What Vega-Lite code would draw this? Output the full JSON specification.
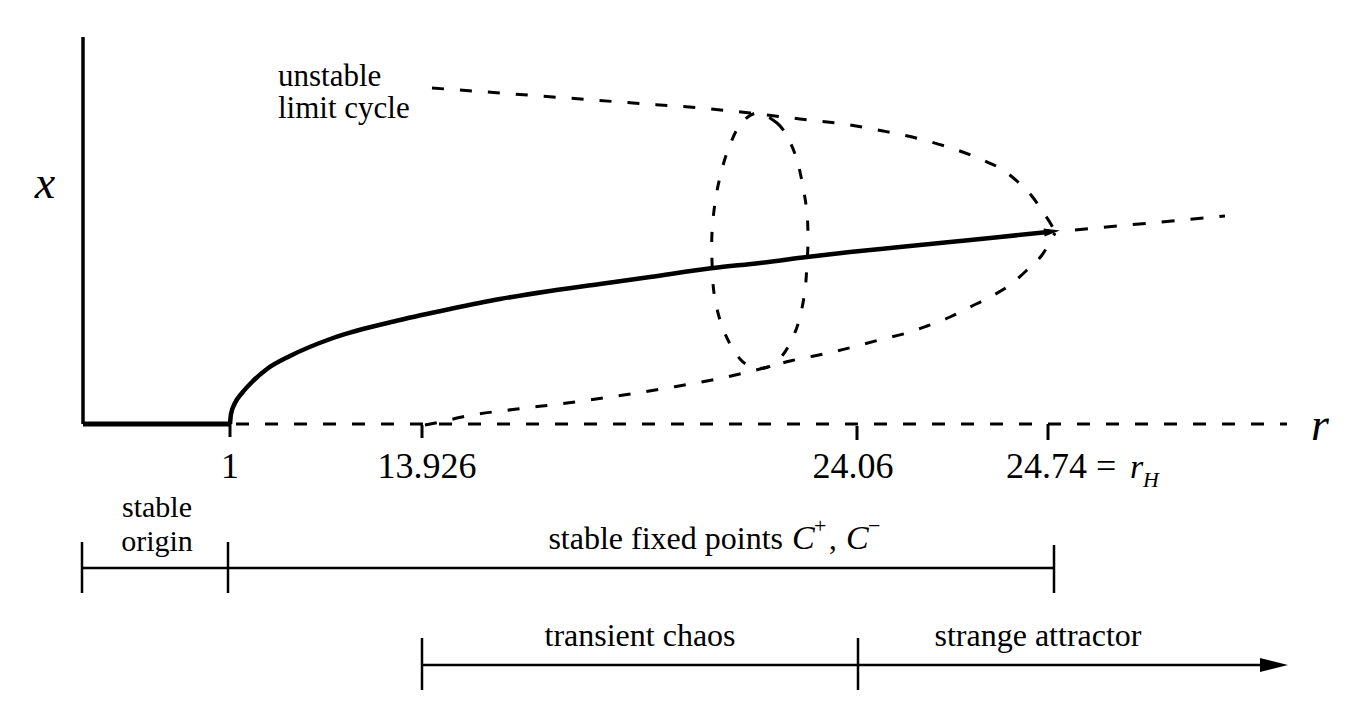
{
  "$schema": "https://vega.github.io/schema/vega-lite/v6.json",
  "width": 1345,
  "height": 714,
  "autosize": {"type": "fit", "contains": "padding"},
  "padding": 0,
  "background": "white",
  "config": {"view": {"stroke": null}},
  "datasets": {
    "paths": [
      {"g": "yaxis", "i": 0, "u": 83, "v": 37},
      {"g": "yaxis", "i": 1, "u": 83, "v": 424},
      {"g": "origin", "i": 0, "u": 83, "v": 424},
      {"g": "origin", "i": 1, "u": 231, "v": 424},
      {"g": "stable", "i": 0, "u": 230, "v": 424},
      {"g": "stable", "i": 1, "u": 231, "v": 414},
      {"g": "stable", "i": 2, "u": 235, "v": 403},
      {"g": "stable", "i": 3, "u": 242, "v": 393},
      {"g": "stable", "i": 4, "u": 252, "v": 382},
      {"g": "stable", "i": 5, "u": 267, "v": 369},
      {"g": "stable", "i": 6, "u": 290, "v": 356},
      {"g": "stable", "i": 7, "u": 333, "v": 338},
      {"g": "stable", "i": 8, "u": 400, "v": 320},
      {"g": "stable", "i": 9, "u": 450, "v": 309},
      {"g": "stable", "i": 10, "u": 500, "v": 299},
      {"g": "stable", "i": 11, "u": 550, "v": 291},
      {"g": "stable", "i": 12, "u": 600, "v": 284},
      {"g": "stable", "i": 13, "u": 650, "v": 277},
      {"g": "stable", "i": 14, "u": 713, "v": 268},
      {"g": "stable", "i": 15, "u": 760, "v": 263},
      {"g": "stable", "i": 16, "u": 807, "v": 257},
      {"g": "stable", "i": 17, "u": 850, "v": 252},
      {"g": "stable", "i": 18, "u": 900, "v": 247},
      {"g": "stable", "i": 19, "u": 950, "v": 242},
      {"g": "stable", "i": 20, "u": 1000, "v": 237},
      {"g": "stable", "i": 21, "u": 1048, "v": 232},
      {"g": "raxis", "i": 0, "u": 236, "v": 424},
      {"g": "raxis", "i": 1, "u": 1287, "v": 424},
      {"g": "ext", "i": 0, "u": 1075, "v": 230},
      {"g": "ext", "i": 1, "u": 1225, "v": 216},
      {"g": "upper", "i": 0, "u": 432, "v": 88},
      {"g": "upper", "i": 1, "u": 500, "v": 93},
      {"g": "upper", "i": 2, "u": 567, "v": 98},
      {"g": "upper", "i": 3, "u": 633, "v": 103},
      {"g": "upper", "i": 4, "u": 700, "v": 108},
      {"g": "upper", "i": 5, "u": 750, "v": 113},
      {"g": "upper", "i": 6, "u": 800, "v": 119},
      {"g": "upper", "i": 7, "u": 850, "v": 125},
      {"g": "upper", "i": 8, "u": 883, "v": 131},
      {"g": "upper", "i": 9, "u": 920, "v": 139},
      {"g": "upper", "i": 10, "u": 957, "v": 150},
      {"g": "upper", "i": 11, "u": 985, "v": 161},
      {"g": "upper", "i": 12, "u": 1003, "v": 170},
      {"g": "upper", "i": 13, "u": 1018, "v": 182},
      {"g": "upper", "i": 14, "u": 1031, "v": 195},
      {"g": "upper", "i": 15, "u": 1043, "v": 212},
      {"g": "upper", "i": 16, "u": 1052, "v": 226},
      {"g": "upper", "i": 17, "u": 1055, "v": 232},
      {"g": "lower", "i": 0, "u": 425, "v": 425},
      {"g": "lower", "i": 1, "u": 440, "v": 422},
      {"g": "lower", "i": 2, "u": 467, "v": 416},
      {"g": "lower", "i": 3, "u": 517, "v": 409},
      {"g": "lower", "i": 4, "u": 567, "v": 403},
      {"g": "lower", "i": 5, "u": 617, "v": 396},
      {"g": "lower", "i": 6, "u": 667, "v": 388},
      {"g": "lower", "i": 7, "u": 717, "v": 379},
      {"g": "lower", "i": 8, "u": 760, "v": 369},
      {"g": "lower", "i": 9, "u": 790, "v": 361},
      {"g": "lower", "i": 10, "u": 833, "v": 352},
      {"g": "lower", "i": 11, "u": 883, "v": 339},
      {"g": "lower", "i": 12, "u": 907, "v": 333},
      {"g": "lower", "i": 13, "u": 927, "v": 326},
      {"g": "lower", "i": 14, "u": 950, "v": 317},
      {"g": "lower", "i": 15, "u": 970, "v": 307},
      {"g": "lower", "i": 16, "u": 990, "v": 297},
      {"g": "lower", "i": 17, "u": 1010, "v": 285},
      {"g": "lower", "i": 18, "u": 1026, "v": 271},
      {"g": "lower", "i": 19, "u": 1042, "v": 255},
      {"g": "lower", "i": 20, "u": 1055, "v": 233},
      {"g": "loop", "i": 0, "u": 757, "v": 113},
      {"g": "loop", "i": 1, "u": 777, "v": 123},
      {"g": "loop", "i": 2, "u": 788, "v": 138},
      {"g": "loop", "i": 3, "u": 797, "v": 160},
      {"g": "loop", "i": 4, "u": 803, "v": 187},
      {"g": "loop", "i": 5, "u": 807, "v": 213},
      {"g": "loop", "i": 6, "u": 808, "v": 240},
      {"g": "loop", "i": 7, "u": 807, "v": 264},
      {"g": "loop", "i": 8, "u": 805, "v": 290},
      {"g": "loop", "i": 9, "u": 800, "v": 317},
      {"g": "loop", "i": 10, "u": 793, "v": 337},
      {"g": "loop", "i": 11, "u": 782, "v": 356},
      {"g": "loop", "i": 12, "u": 768, "v": 367},
      {"g": "loop", "i": 13, "u": 752, "v": 367},
      {"g": "loop", "i": 14, "u": 740, "v": 359},
      {"g": "loop", "i": 15, "u": 729, "v": 342},
      {"g": "loop", "i": 16, "u": 720, "v": 320},
      {"g": "loop", "i": 17, "u": 714, "v": 293},
      {"g": "loop", "i": 18, "u": 712, "v": 262},
      {"g": "loop", "i": 19, "u": 712, "v": 233},
      {"g": "loop", "i": 20, "u": 715, "v": 203},
      {"g": "loop", "i": 21, "u": 720, "v": 177},
      {"g": "loop", "i": 22, "u": 728, "v": 150},
      {"g": "loop", "i": 23, "u": 740, "v": 125}
    ],
    "segs": [
      {"k": "tick", "u": 230, "v": 424, "u2": 230, "v2": 437},
      {"k": "tick", "u": 422, "v": 425, "u2": 422, "v2": 438},
      {"k": "tick", "u": 857, "v": 426, "u2": 857, "v2": 440},
      {"k": "tick", "u": 1048, "v": 424, "u2": 1048, "v2": 440},
      {"k": "bar", "u": 82, "v": 568, "u2": 1054, "v2": 568},
      {"k": "bar", "u": 422, "v": 665, "u2": 1265, "v2": 665},
      {"k": "bar", "u": 82, "v": 542, "u2": 82, "v2": 593},
      {"k": "bar", "u": 228, "v": 542, "u2": 228, "v2": 593},
      {"k": "bar", "u": 1054, "v": 545, "u2": 1054, "v2": 593},
      {"k": "bar", "u": 422, "v": 638, "u2": 422, "v2": 690},
      {"k": "bar", "u": 858, "v": 638, "u2": 858, "v2": 690}
    ],
    "heads": [
      {"k": "big", "u": 1274, "v": 665},
      {"k": "small", "u": 1052, "v": 231.5}
    ],
    "labels": [
      {"k": "labS", "t": "stable", "u": 157, "v": 517},
      {"k": "labS", "t": "origin", "u": 157, "v": 551},
      {"k": "lab", "t": "transient chaos", "u": 640, "v": 646},
      {"k": "lab", "t": "strange attractor", "u": 1038, "v": 646},
      {"k": "labL", "t": "unstable", "u": 278, "v": 86},
      {"k": "labL", "t": "limit cycle", "u": 278, "v": 118},
      {"k": "labL", "t": ",", "u": 829, "v": 549},
      {"k": "labR", "t": "stable fixed points", "u": 783, "v": 549},
      {"k": "num", "t": "1", "u": 230, "v": 478},
      {"k": "num", "t": "13.926", "u": 427, "v": 478},
      {"k": "num", "t": "24.06", "u": 853, "v": 478},
      {"k": "numL", "t": "24.74 =", "u": 1006, "v": 478},
      {"k": "it", "t": "x", "u": 45, "v": 198},
      {"k": "it", "t": "r", "u": 1320, "v": 440},
      {"k": "itS", "t": "r", "u": 1130, "v": 478},
      {"k": "itS", "t": "C", "u": 792, "v": 549},
      {"k": "itS", "t": "C", "u": 846, "v": 549},
      {"k": "sub", "t": "H", "u": 1143, "v": 487},
      {"k": "sup", "t": "+", "u": 814, "v": 533},
      {"k": "sup", "t": "−", "u": 868, "v": 533}
    ]
  },
  "encoding": {
    "x": {"field": "u", "type": "quantitative", "scale": {"domain": [0, 1345], "nice": false, "zero": false}, "axis": null},
    "y": {"field": "v", "type": "quantitative", "scale": {"domain": [0, 714], "nice": false, "zero": false, "reverse": true}, "axis": null}
  },
  "layer": [
    {
      "data": {"name": "paths"},
      "transform": [{"filter": "datum.g === 'yaxis'"}],
      "mark": {"type": "line", "color": "#000", "strokeWidth": 3.5},
      "encoding": {"order": {"field": "i", "type": "quantitative"}}
    },
    {
      "data": {"name": "paths"},
      "transform": [{"filter": "datum.g === 'origin'"}],
      "mark": {"type": "line", "color": "#000", "strokeWidth": 5},
      "encoding": {"order": {"field": "i", "type": "quantitative"}}
    },
    {
      "data": {"name": "paths"},
      "transform": [{"filter": "datum.g === 'stable'"}],
      "mark": {"type": "line", "color": "#000", "strokeWidth": 4.5, "interpolate": "monotone"},
      "encoding": {"order": {"field": "i", "type": "quantitative"}}
    },
    {
      "data": {"name": "paths"},
      "transform": [{"filter": "datum.g === 'raxis' || datum.g === 'ext'"}],
      "mark": {"type": "line", "color": "#000", "strokeWidth": 3, "strokeDash": [13, 16]},
      "encoding": {"detail": {"field": "g"}, "order": {"field": "i", "type": "quantitative"}}
    },
    {
      "data": {"name": "paths"},
      "transform": [{"filter": "datum.g === 'upper' || datum.g === 'lower'"}],
      "mark": {"type": "line", "color": "#000", "strokeWidth": 3, "strokeDash": [12, 16], "interpolate": "monotone"},
      "encoding": {"detail": {"field": "g"}, "order": {"field": "i", "type": "quantitative"}}
    },
    {
      "data": {"name": "paths"},
      "transform": [{"filter": "datum.g === 'loop'"}],
      "mark": {"type": "line", "color": "#000", "strokeWidth": 3, "strokeDash": [10, 16], "interpolate": "cardinal-closed"},
      "encoding": {"order": {"field": "i", "type": "quantitative"}}
    },
    {
      "data": {"name": "segs"},
      "transform": [{"filter": "datum.k === 'tick'"}],
      "mark": {"type": "rule", "color": "#000", "strokeWidth": 3},
      "encoding": {"x2": {"field": "u2"}, "y2": {"field": "v2"}}
    },
    {
      "data": {"name": "segs"},
      "transform": [{"filter": "datum.k === 'bar'"}],
      "mark": {"type": "rule", "color": "#000", "strokeWidth": 2.5},
      "encoding": {"x2": {"field": "u2"}, "y2": {"field": "v2"}}
    },
    {
      "data": {"name": "heads"},
      "transform": [{"filter": "datum.k === 'big'"}],
      "mark": {"type": "point", "shape": "M-1,-0.5L1,0L-1,0.5Z", "filled": true, "color": "#000", "opacity": 1, "size": 784}
    },
    {
      "data": {"name": "heads"},
      "transform": [{"filter": "datum.k === 'small'"}],
      "mark": {"type": "point", "shape": "M-1,-0.5L1,0L-1,0.5Z", "filled": true, "color": "#000", "opacity": 1, "size": 256, "angle": -7}
    },
    {
      "data": {"name": "labels"},
      "transform": [{"filter": "datum.k === 'labS'"}],
      "mark": {"type": "text", "font": "Liberation Serif", "fontSize": 30, "align": "center", "baseline": "alphabetic", "color": "#000"},
      "encoding": {"text": {"field": "t"}}
    },
    {
      "data": {"name": "labels"},
      "transform": [{"filter": "datum.k === 'lab'"}],
      "mark": {"type": "text", "font": "Liberation Serif", "fontSize": 32, "align": "center", "baseline": "alphabetic", "color": "#000"},
      "encoding": {"text": {"field": "t"}}
    },
    {
      "data": {"name": "labels"},
      "transform": [{"filter": "datum.k === 'labL'"}],
      "mark": {"type": "text", "font": "Liberation Serif", "fontSize": 31, "align": "left", "baseline": "alphabetic", "color": "#000"},
      "encoding": {"text": {"field": "t"}}
    },
    {
      "data": {"name": "labels"},
      "transform": [{"filter": "datum.k === 'labR'"}],
      "mark": {"type": "text", "font": "Liberation Serif", "fontSize": 32, "align": "right", "baseline": "alphabetic", "color": "#000"},
      "encoding": {"text": {"field": "t"}}
    },
    {
      "data": {"name": "labels"},
      "transform": [{"filter": "datum.k === 'num'"}],
      "mark": {"type": "text", "font": "Liberation Serif", "fontSize": 36, "align": "center", "baseline": "alphabetic", "color": "#000"},
      "encoding": {"text": {"field": "t"}}
    },
    {
      "data": {"name": "labels"},
      "transform": [{"filter": "datum.k === 'numL'"}],
      "mark": {"type": "text", "font": "Liberation Serif", "fontSize": 36, "align": "left", "baseline": "alphabetic", "color": "#000"},
      "encoding": {"text": {"field": "t"}}
    },
    {
      "data": {"name": "labels"},
      "transform": [{"filter": "datum.k === 'it'"}],
      "mark": {"type": "text", "font": "Liberation Serif", "fontSize": 46, "fontStyle": "italic", "align": "center", "baseline": "alphabetic", "color": "#000"},
      "encoding": {"text": {"field": "t"}}
    },
    {
      "data": {"name": "labels"},
      "transform": [{"filter": "datum.k === 'itS'"}],
      "mark": {"type": "text", "font": "Liberation Serif", "fontSize": 34, "fontStyle": "italic", "align": "left", "baseline": "alphabetic", "color": "#000"},
      "encoding": {"text": {"field": "t"}}
    },
    {
      "data": {"name": "labels"},
      "transform": [{"filter": "datum.k === 'sub'"}],
      "mark": {"type": "text", "font": "Liberation Serif", "fontSize": 22, "fontStyle": "italic", "align": "left", "baseline": "alphabetic", "color": "#000"},
      "encoding": {"text": {"field": "t"}}
    },
    {
      "data": {"name": "labels"},
      "transform": [{"filter": "datum.k === 'sup'"}],
      "mark": {"type": "text", "font": "Liberation Serif", "fontSize": 22, "align": "left", "baseline": "alphabetic", "color": "#000"},
      "encoding": {"text": {"field": "t"}}
    }
  ]
}
